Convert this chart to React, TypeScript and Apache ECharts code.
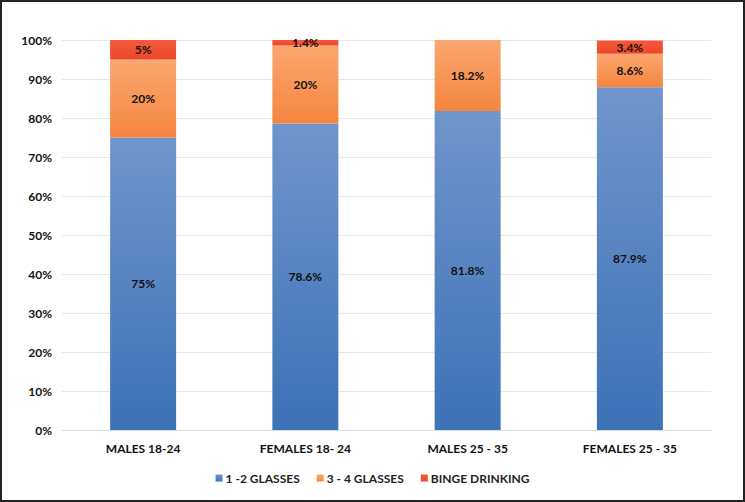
import React, { useEffect, useRef } from "react";
import * as echarts from "echarts";

const categories = ["MALES 18-24", "FEMALES 18- 24", "MALES 25 - 35", "FEMALES 25 - 35"];
const glasses12 = [75, 78.6, 81.8, 87.9];
const glasses34 = [20, 20, 18.2, 8.6];
const binge = [5, 1.4, 0, 3.4];
const seriesNames = ["1 -2 GLASSES", "3 - 4 GLASSES", "BINGE DRINKING"];

const FONT = "Lato, 'Open Sans', sans-serif";

export default function App() {
  const ref = useRef<HTMLDivElement>(null);
  useEffect(() => {
    if (!ref.current) return;
    const chart = echarts.init(ref.current, null, { renderer: "svg" });
    const grad = (top: string, bottom: string) =>
      new echarts.graphic.LinearGradient(0, 0, 0, 1, [
        { offset: 0, color: top },
        { offset: 1, color: bottom },
      ]);
    const label = {
      show: true,
      position: "inside" as const,
      color: "#111",
      fontFamily: FONT,
      fontWeight: "bold" as const,
      fontSize: 12,
      formatter: (p: any) => (p.value ? p.value + "%" : ""),
    };
    chart.setOption({
      animation: false,
      grid: { left: 60, right: 32, top: 38, bottom: 70 },
      legend: {
        bottom: 11,
        left: "center",
        itemWidth: 7,
        itemHeight: 7,
        itemGap: 17,
        icon: "rect",
        textStyle: {
          fontFamily: FONT,
          fontWeight: "bold",
          fontSize: 12,
          color: "#222",
          padding: [0, 0, 0, -2],
        },
        data: seriesNames,
      },
      xAxis: {
        type: "category",
        data: categories,
        axisLine: { lineStyle: { color: "#d9dde4" } },
        axisTick: { show: false },
        axisLabel: { fontFamily: FONT, fontWeight: "bold", fontSize: 12, color: "#111", margin: 12 },
      },
      yAxis: {
        type: "value",
        min: 0,
        max: 100,
        interval: 10,
        axisLine: { show: false },
        axisTick: { show: false },
        splitLine: { lineStyle: { color: "#e3e7ee" } },
        axisLabel: {
          fontFamily: FONT,
          fontWeight: "bold",
          fontSize: 12,
          color: "#111",
          margin: 10,
          formatter: "{value}%",
        },
      },
      series: [
        {
          name: seriesNames[0],
          type: "bar",
          stack: "total",
          barWidth: 66,
          data: glasses12,
          itemStyle: { color: grad("#6f95cb", "#3d72b7") },
          label,
        },
        {
          name: seriesNames[1],
          type: "bar",
          stack: "total",
          barWidth: 66,
          data: glasses34,
          itemStyle: { color: grad("#fba771", "#f5853e") },
          label,
        },
        {
          name: seriesNames[2],
          type: "bar",
          stack: "total",
          barWidth: 66,
          data: binge,
          itemStyle: { color: grad("#f45a3c", "#ee4628") },
          label,
        },
      ],
      color: ["#4a7cbf", "#f79250", "#f04a2a"],
    });
    return () => chart.dispose();
  }, []);
  return (
    <div
      style={{
        position: "fixed",
        left: 0,
        top: 0,
        width: 745,
        height: 502,
        boxSizing: "border-box",
        border: "2px solid #222",
        background: "#fff",
      }}
    >
      <div ref={ref} style={{ width: 741, height: 498 }} />
    </div>
  );
}
